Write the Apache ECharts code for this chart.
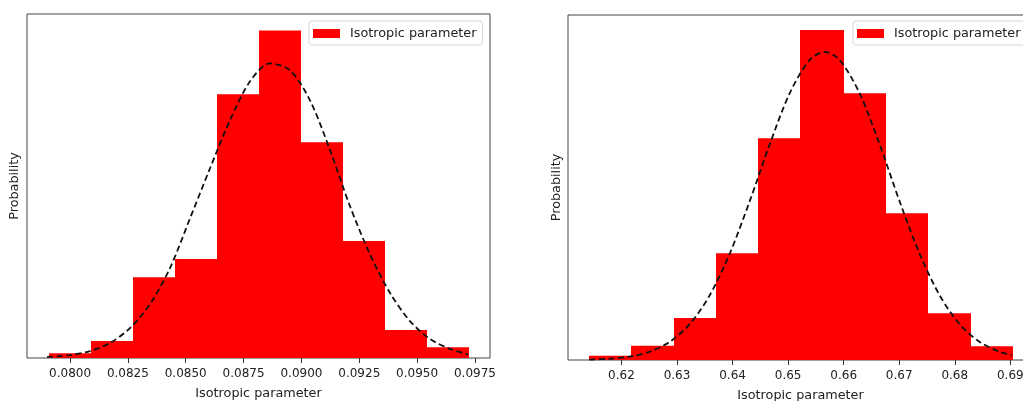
<!DOCTYPE html>
<html>
<head>
    <meta charset="utf-8">
    <title>Isotropic parameter</title>
    <script src="https://cdn.jsdelivr.net/npm/echarts@6.0.0/dist/echarts.min.js"></script>
    <style>
        html, body { margin: 0; padding: 0; background: #fff; }
    </style>
</head>
<body>
<div id="main" style="width: 1023px;height:401px;"></div>
<script type="text/javascript">

    var seriesName = 'Isotropic parameter';

    // left panel: bin edges and density of each bin
    var leftEdges = [0.07908, 0.08089, 0.08271, 0.08452, 0.08633, 0.08815, 0.08996, 0.09177, 0.09358, 0.09540, 0.09721];
    var leftDensity = [2.2, 8.0, 38.3, 46.9, 125.0, 155.2, 102.2, 55.4, 13.3, 5.1];
    var leftTicks = [0.0800, 0.0825, 0.0850, 0.0875, 0.0900, 0.0925, 0.0950, 0.0975];
    // dashed fit curve
    var leftCurveX = [0.07901, 0.08000, 0.08086, 0.08173, 0.08259, 0.08346, 0.08432, 0.08519, 0.08605, 0.08691, 0.08778,
        0.08864, 0.08951, 0.09037, 0.09124, 0.09210, 0.09296, 0.09383, 0.09469, 0.09556, 0.09642, 0.09720];
    var leftCurveY = [0.5, 1.4, 3.3, 7.1, 14.2, 25.6, 42.6, 66.3, 89.9, 112.6, 131.1,
        139.6, 136.3, 122.1, 98.4, 71.9, 49.2, 30.8, 17.5, 9.0, 4.3, 1.7];

    // right panel
    var rightEdges = [0.61418, 0.62179, 0.62940, 0.63701, 0.64462, 0.65223, 0.65983, 0.66744, 0.67505, 0.68266, 0.69027];
    var rightDensity = [0.47, 1.58, 4.63, 11.76, 24.43, 36.36, 29.39, 16.16, 5.15, 1.51];
    var rightTicks = [0.62, 0.63, 0.64, 0.65, 0.66, 0.67, 0.68, 0.69];
    var rightCurveX = [0.61423, 0.61784, 0.62144, 0.62505, 0.62865, 0.63225, 0.63586, 0.63946, 0.64306, 0.64667, 0.65027,
        0.65387, 0.65658, 0.65928, 0.66288, 0.66649, 0.67009, 0.67369, 0.67730, 0.68090, 0.68450, 0.68811, 0.69027];
    var rightCurveY = [0.05, 0.14, 0.37, 0.90, 1.98, 3.92, 7.10, 11.67, 17.44, 23.72, 29.36,
        33.04, 33.94, 33.04, 29.36, 23.72, 17.44, 11.67, 7.10, 3.92, 1.98, 0.90, 0.54];

    var font = 'DejaVu Sans';
    var textColor = '#222';

    function binData(edges, dens) {
        var out = [];
        for (var i = 0; i < dens.length; i++) {
            out.push([edges[i], edges[i + 1], dens[i]]);
        }
        return out;
    }

    function pairs(xs, ys) {
        var out = [];
        for (var i = 0; i < xs.length; i++) {
            out.push([xs[i], ys[i]]);
        }
        return out;
    }

    function renderBin(params, api) {
        var p0 = api.coord([api.value(0), api.value(2)]);
        var p1 = api.coord([api.value(1), 0]);
        var x0 = Math.round(p0[0]);
        var x1 = Math.round(p1[0]);
        return {
            type: 'rect',
            shape: {x: x0, y: p0[1], width: x1 - x0 + 1, height: p1[1] - p0[1]},
            style: {fill: '#ff0000', stroke: null}
        };
    }

    function xAxisCfg(idx, min, max, ticks, digits) {
        return {
            type: 'value', gridIndex: idx, min: min, max: max,
            name: 'Isotropic parameter', nameLocation: 'middle', nameGap: 29,
            nameTextStyle: {fontFamily: font, fontSize: 12.8, color: textColor},
            splitLine: {show: false},
            axisLine: {show: false},
            axisTick: {show: true, length: 5, customValues: ticks, lineStyle: {color: '#333', width: 1}},
            axisLabel: {
                customValues: ticks, margin: 10, fontFamily: font, fontSize: 12, color: textColor,
                formatter: function (v) { return v.toFixed(digits); }
            }
        };
    }

    function yAxisCfg(idx, max, gap) {
        return {
            type: 'value', gridIndex: idx, min: 0, max: max,
            name: 'Probability', nameLocation: 'middle', nameGap: gap,
            nameTextStyle: {fontFamily: font, fontSize: 12.8, color: textColor},
            splitLine: {show: false},
            axisLine: {show: false},
            axisTick: {show: false},
            axisLabel: {show: false}
        };
    }

    function legendCfg(left) {
        return {
            data: [seriesName], left: left, top: 21, icon: 'rect',
            itemWidth: 27, itemHeight: 9,
            padding: [6, 6, 5, 4],
            borderColor: '#d6d6d6', borderWidth: 1, borderRadius: 3,
            backgroundColor: 'rgba(255,255,255,0.85)',
            selectedMode: false,
            textStyle: {fontFamily: font, fontSize: 12.8, color: textColor, padding: [0, 0, 0, 5]}
        };
    }

    var myChart = echarts.init(document.getElementById('main'), null, {renderer: 'canvas'});

    var option = {
        backgroundColor: '#ffffff',
        animation: false,
        grid: [
            {left: 27, top: 14, width: 463, height: 344, show: true, borderColor: '#444', borderWidth: 1,
                backgroundColor: 'transparent', containLabel: false, outerBoundsMode: 'none'},
            {left: 568, top: 15, width: 465, height: 345, show: true, borderColor: '#444', borderWidth: 1,
                backgroundColor: 'transparent', containLabel: false, outerBoundsMode: 'none'}
        ],
        legend: [legendCfg(309), legendCfg(853)],
        xAxis: [
            xAxisCfg(0, 0.07814, 0.09815, leftTicks, 4),
            xAxisCfg(1, 0.61038, 0.69408, rightTicks, 2)
        ],
        yAxis: [
            yAxisCfg(0, 163, 6),
            yAxisCfg(1, 38.0, 5)
        ],
        series: [
            {
                name: seriesName, type: 'custom', xAxisIndex: 0, yAxisIndex: 0,
                itemStyle: {color: '#ff0000'},
                encode: {x: [0, 1], y: 2},
                renderItem: renderBin,
                data: binData(leftEdges, leftDensity)
            },
            {
                name: 'fitLeft', type: 'line', xAxisIndex: 0, yAxisIndex: 0,
                showSymbol: false, smooth: 0.3, z: 5,
                lineStyle: {color: '#111', width: 1.8, type: [6, 3.5]},
                data: pairs(leftCurveX, leftCurveY)
            },
            {
                name: seriesName, type: 'custom', xAxisIndex: 1, yAxisIndex: 1,
                itemStyle: {color: '#ff0000'},
                encode: {x: [0, 1], y: 2},
                renderItem: renderBin,
                data: binData(rightEdges, rightDensity)
            },
            {
                name: 'fitRight', type: 'line', xAxisIndex: 1, yAxisIndex: 1,
                showSymbol: false, smooth: 0.3, z: 5,
                lineStyle: {color: '#111', width: 1.8, type: [6, 3.5]},
                data: pairs(rightCurveX, rightCurveY)
            }
        ]
    };

    myChart.setOption(option);
</script>
</body>
</html>
